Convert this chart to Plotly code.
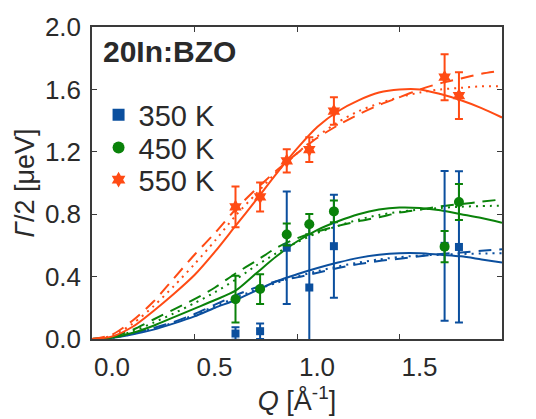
import plotly.graph_objects as go

# Measured half widths Γ/2 (μeV) at each Q (Å^-1)
q_points = [0.70, 0.82, 0.95, 1.06, 1.18, 1.72, 1.79]

g350 = [0.035, 0.050, 0.585, 0.330, 0.595, 0.597, 0.590]
e350 = [0.040, 0.050, 0.360, 0.400, 0.330, 0.480, 0.485]

g450 = [0.255, 0.320, 0.670, 0.736, 0.818, 0.592, 0.878]
e450 = [0.150, 0.095, 0.070, 0.065, 0.070, 0.100, 0.115]

g550 = [0.847, 0.911, 1.142, 1.214, 1.461, 1.678, 1.560]
e550 = [0.130, 0.093, 0.075, 0.080, 0.088, 0.147, 0.150]

# Model curves sampled on a common Q grid
q_fit = [0.0, 0.1, 0.2, 0.3, 0.4, 0.5, 0.6, 0.7, 0.8, 0.9, 1.0,
         1.1, 1.2, 1.3, 1.4, 1.5, 1.6, 1.7, 1.8, 1.9, 2.0]

fit350_solid = [0, 0.008, 0.030, 0.060, 0.100, 0.145, 0.200, 0.250, 0.310, 0.370, 0.415,
                0.455, 0.490, 0.520, 0.540, 0.550, 0.550, 0.540, 0.530, 0.510, 0.490]
fit350_dash = [0, 0.010, 0.035, 0.070, 0.110, 0.160, 0.220, 0.280, 0.330, 0.370, 0.395,
               0.425, 0.455, 0.480, 0.500, 0.515, 0.530, 0.545, 0.555, 0.565, 0.575]
fit350_dot = [0, 0.009, 0.033, 0.068, 0.105, 0.155, 0.210, 0.265, 0.315, 0.360, 0.400,
              0.435, 0.465, 0.490, 0.510, 0.525, 0.535, 0.540, 0.545, 0.548, 0.550]

fit450_solid = [0, 0.010, 0.040, 0.085, 0.140, 0.195, 0.250, 0.310, 0.420, 0.530, 0.625,
                0.700, 0.755, 0.800, 0.830, 0.843, 0.840, 0.825, 0.800, 0.775, 0.745]
fit450_dash = [0, 0.015, 0.060, 0.125, 0.190, 0.255, 0.330, 0.420, 0.500, 0.585, 0.645,
               0.690, 0.725, 0.755, 0.780, 0.810, 0.830, 0.850, 0.865, 0.880, 0.895]
fit450_dot = [0, 0.012, 0.050, 0.105, 0.165, 0.230, 0.300, 0.380, 0.470, 0.550, 0.620,
              0.680, 0.725, 0.765, 0.795, 0.815, 0.830, 0.840, 0.848, 0.852, 0.855]

fit550_solid = [0, 0.017, 0.080, 0.180, 0.290, 0.410, 0.560, 0.725, 0.890, 1.060, 1.220,
                1.360, 1.460, 1.530, 1.580, 1.600, 1.600, 1.570, 1.530, 1.480, 1.420]
fit550_dash = [0, 0.030, 0.120, 0.240, 0.390, 0.540, 0.680, 0.830, 0.960, 1.080, 1.190,
               1.290, 1.370, 1.440, 1.500, 1.550, 1.600, 1.640, 1.670, 1.700, 1.720]
fit550_dot = [0, 0.022, 0.100, 0.210, 0.340, 0.480, 0.630, 0.790, 0.930, 1.070, 1.190,
              1.300, 1.390, 1.460, 1.510, 1.550, 1.580, 1.600, 1.610, 1.620, 1.620]

x_ticks = [0.0, 0.5, 1.0, 1.5, 2.0]
y_ticks = [0.0, 0.4, 0.8, 1.2, 1.6, 2.0]

BLUE = "#0b4f9e"
GREEN = "#0a820a"
ORANGE = "#ff4b14"
INK = "#2a2a2a"
FONT = "Liberation Sans, Arial, sans-serif"

# label, colour, symbol, marker size, values, errors, fits, legend id, legend top
series = [
    ("350 K", BLUE, "square", 8, g350, e350, fit350_solid, fit350_dash, fit350_dot, "legend", 0.800),
    ("450 K", GREEN, "circle", 10, g450, e450, fit450_solid, fit450_dash, fit450_dot, "legend2", 0.695),
    ("550 K", ORANGE, "hexagram", 11, g550, e550, fit550_solid, fit550_dash, fit550_dot, "legend3", 0.592),
]

fig = go.Figure()

# fit curves underneath the data
for name, col, sym, sz, g, e, fs, fd, fo, leg, ly in series:
    for vals, dash in ((fs, "solid"), (fd, "13px,8px"), (fo, "2px,5px")):
        fig.add_trace(go.Scatter(
            x=q_fit, y=vals, mode="lines", showlegend=False, hoverinfo="skip",
            line=dict(color=col, width=2, dash=dash, shape="spline", smoothing=0.8),
        ))

legend_layout = {}
for name, col, sym, sz, g, e, fs, fd, fo, leg, ly in series:
    fig.add_trace(go.Scatter(
        x=q_points, y=g, mode="markers", name=name, legend=leg,
        marker=dict(symbol=sym, size=sz, color=col, line=dict(width=0)),
        error_y=dict(type="data", array=e, visible=True, color=col,
                     thickness=2, width=4),
    ))
    legend_layout[leg] = dict(
        x=0.016, y=ly, xanchor="left", yanchor="top",
        font=dict(family=FONT, size=29, color=INK),
        bgcolor="rgba(0,0,0,0)", borderwidth=0, itemsizing="constant",
    )

axis_common = dict(
    showline=True, mirror="ticks", linecolor="#3a3a3a", linewidth=1.5,
    ticks="inside", ticklen=5, tickwidth=1.3, tickcolor="#3a3a3a",
    showgrid=False, zeroline=False,
    tickfont=dict(family=FONT, size=26, color=INK),
)

fig.update_xaxes(
    range=[0, 2], tickvals=x_ticks, ticktext=[f"{v:.1f}" for v in x_ticks],
    ticklabelshift=20, ticklabelstandoff=4,
    title=dict(text="<i>Q</i> [Å<sup>-1</sup>]", font=dict(family=FONT, size=27, color=INK),
               standoff=6),
    **axis_common,
)
fig.update_yaxes(
    range=[0, 2], tickvals=y_ticks, ticktext=[f"{v:.1f}" for v in y_ticks],
    ticklabelstandoff=4,
    title=dict(text="<i>Γ</i>/2 [μeV]", font=dict(family=FONT, size=27, color=INK),
               standoff=2),
    **axis_common,
)

fig.add_annotation(
    x=0, y=1, xref="paper", yref="paper", xanchor="left", yanchor="top",
    xshift=9, yshift=-6, text="<b>20In:BZO</b>", showarrow=False,
    font=dict(family=FONT, size=30, color=INK),
)

fig.update_layout(
    width=536, height=419,
    margin=dict(l=92, r=34, t=25, b=70),
    paper_bgcolor="white", plot_bgcolor="white",
    showlegend=True,
    **legend_layout,
)

fig.write_html("out.html")
